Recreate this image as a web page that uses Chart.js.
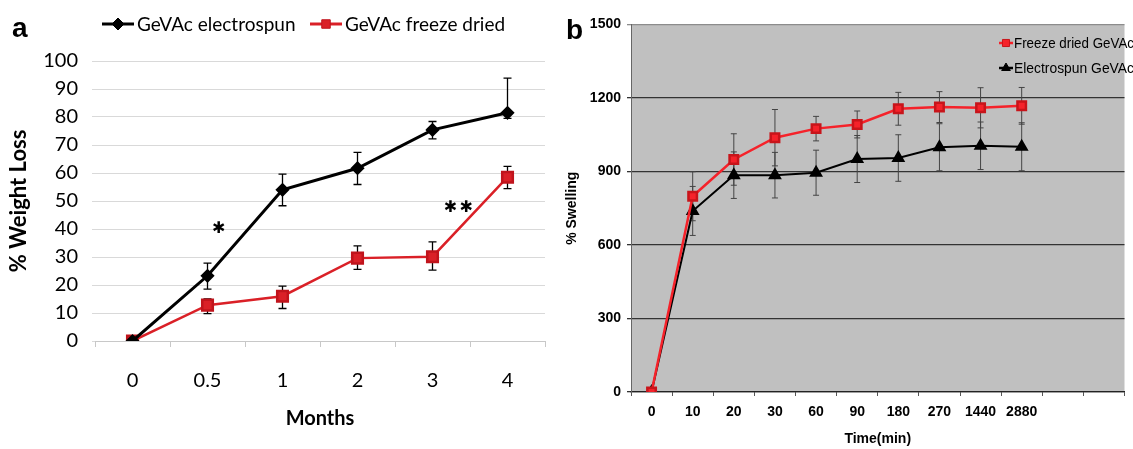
<!DOCTYPE html>
<html>
<head>
<meta charset="utf-8">
<script src="https://cdn.jsdelivr.net/npm/chart.js@4.4.1/dist/chart.umd.min.js"></script>
<style>
  body { margin: 0; background: #fff; width: 1133px; height: 449px; overflow: hidden; position: relative; }
  .panel { position: absolute; top: 0; height: 449px; }
  #pa { left: 0; width: 560px; }
  #pb { left: 560px; width: 573px; }
  .tag { position: absolute; font: bold 28px "Liberation Sans", Arial, sans-serif; color: #000; line-height: 1; }
</style>
</head>
<body>
<div class="panel" id="pa"><canvas id="chartA" width="560" height="449"></canvas></div>
<div class="panel" id="pb"><canvas id="chartB" width="573" height="449"></canvas></div>
<div class="tag" style="left:12px;top:14px">a</div>
<div class="tag" style="left:566px;top:16px">b</div>
<script>
// Panel a: % weight loss over months
const monthLabels = ['0', '0.5', '1', '2', '3', '4'];
const electroLoss = [0, 23.3, 54, 61.7, 75.4, 81.5];
const electroLossUp = [0, 4.5, 5.6, 5.7, 3, 12.4];
const electroLossDown = [0, 4.8, 5.7, 5.8, 3.2, 2];
const freezeLoss = [0, 12.8, 16, 29.6, 30.1, 58.5];
const freezeLossUp = [0, 2.2, 3.6, 4.4, 5.3, 3.9];
const freezeLossDown = [0, 3, 4.4, 4, 4.8, 4.1];
// significance marks (category index, value)
const sigMarks = [
  { x: 1.15, y: 40 },
  { x: 4.24, y: 47.5 },
  { x: 4.45, y: 47.5 }
];

// Panel b: % swelling over time
const timeLabels = ['0', '10', '20', '30', '60', '90', '180', '270', '1440', '2880', '', ''];
const freezeSwell = [0, 799, 949, 1038, 1075, 1092, 1156, 1163, 1160, 1168];
const freezeSwellErr = [0, 100, 105, 115, 50, 55, 67, 63, 82, 75];
const electroSwell = [0, 739, 885, 885, 895, 951, 955, 999, 1005, 1001];
const electroSwellErr = [0, 100, 95, 93, 92, 96, 95, 96, 97, 98];

// error bars, drawn under the markers
const errorBarPlugin = {
  id: 'errorBars',
  beforeDatasetsDraw(chart, args, opts) {
    const ctx = chart.ctx;
    const yScale = chart.scales.y;
    chart.data.datasets.forEach((ds, i) => {
      if (!ds.errUp) return;
      const meta = chart.getDatasetMeta(i);
      ctx.save();
      ctx.strokeStyle = opts.color;
      ctx.lineWidth = opts.width;
      meta.data.forEach((pt, j) => {
        const v = ds.data[j];
        const up = ds.errUp[j], dn = ds.errDown[j];
        if (!up && !dn) return;
        const yTop = yScale.getPixelForValue(v + up);
        const yBot = yScale.getPixelForValue(v - dn);
        ctx.beginPath();
        ctx.moveTo(pt.x, yTop); ctx.lineTo(pt.x, yBot);
        ctx.moveTo(pt.x - opts.cap, yTop); ctx.lineTo(pt.x + opts.cap, yTop);
        ctx.moveTo(pt.x - opts.cap, yBot); ctx.lineTo(pt.x + opts.cap, yBot);
        ctx.stroke();
      });
      ctx.restore();
    });
  }
};

// legend with a line segment and a marker
const lineLegendPlugin = {
  id: 'lineLegend',
  afterDraw(chart, args, opts) {
    const ctx = chart.ctx;
    chart.data.datasets.forEach((ds, i) => {
      const it = opts.items[i];
      ctx.save();
      ctx.strokeStyle = ds.borderColor;
      ctx.lineWidth = opts.lineWidth;
      ctx.beginPath();
      ctx.moveTo(it.x, it.y);
      ctx.lineTo(it.x + opts.lineLen, it.y);
      ctx.stroke();
      ctx.fillStyle = ds.pointBackgroundColor;
      ctx.strokeStyle = ds.pointBorderColor;
      ctx.lineWidth = 1;
      Chart.helpers.drawPoint(ctx, { pointStyle: ds.pointStyle, radius: opts.radius, rotation: 0, borderWidth: 1 },
        it.x + opts.lineLen / 2, it.y);
      ctx.fillStyle = opts.color;
      ctx.font = opts.font;
      ctx.textBaseline = 'middle';
      if (opts.maxWidth) {
        ctx.fillText(ds.label, it.x + opts.lineLen + opts.gap, it.y + 1, opts.maxWidth);
      } else {
        ctx.fillText(ds.label, it.x + opts.lineLen + opts.gap, it.y + 1);
      }
      ctx.restore();
    });
  }
};

const plotBgPlugin = {
  id: 'plotBg',
  beforeDraw(chart, args, opts) {
    const { ctx, chartArea: a } = chart;
    ctx.save();
    ctx.fillStyle = opts.color;
    ctx.fillRect(a.left, a.top, a.right - a.left, a.bottom - a.top);
    ctx.restore();
  }
};

const sigPlugin = {
  id: 'sigMarks',
  afterDatasetsDraw(chart, args, opts) {
    const ctx = chart.ctx;
    ctx.save();
    ctx.fillStyle = '#000';
    ctx.font = opts.font;
    ctx.textAlign = 'center';
    ctx.textBaseline = 'middle';
    sigMarks.forEach(m => {
      ctx.fillText('\u2731', chart.scales.x.getPixelForValue(m.x), chart.scales.y.getPixelForValue(m.y));
    });
    ctx.restore();
  }
};

const fontA = { family: 'Lato', size: 20 };
const fontABold = { family: 'Lato', size: 20, weight: 'bold' };

new Chart(document.getElementById('chartA'), {
  type: 'line',
  data: {
    labels: monthLabels,
    datasets: [{
      label: 'GeVAc electrospun',
      data: electroLoss,
      errUp: electroLossUp,
      errDown: electroLossDown,
      borderColor: '#000',
      borderWidth: 3,
      pointStyle: 'rectRot',
      pointRadius: 5,
      pointBackgroundColor: '#000',
      pointBorderColor: '#000',
      tension: 0
    }, {
      label: 'GeVAc freeze dried',
      data: freezeLoss,
      errUp: freezeLossUp,
      errDown: freezeLossDown,
      borderColor: '#da2027',
      borderWidth: 2.5,
      pointStyle: 'rect',
      pointRadius: 7.5,
      pointBackgroundColor: '#da2027',
      pointBorderColor: '#c0141c',
      tension: 0
    }]
  },
  options: {
    responsive: false,
    animation: false,
    layout: { padding: { left: 0, right: 15, top: 61, bottom: 0 } },
    plugins: {
      legend: { display: false },
      tooltip: { enabled: false },
      errorBars: { color: '#000', width: 1.3, cap: 4 },
      lineLegend: {
        items: [{ x: 102, y: 24 }, { x: 310, y: 24 }],
        lineLen: 32, lineWidth: 3, radius: 6, gap: 3,
        font: '19px Lato', color: '#000'
      },
      sigMarks: { font: 'bold 16px "DejaVu Sans"' }
    },
    scales: {
      x: {
        offset: true,
        grid: { offset: true, drawOnChartArea: false, tickLength: 6, color: '#c8c8c8' },
        border: { color: '#c8c8c8' },
        ticks: { font: fontA, color: '#000', padding: 22 },
        title: { display: true, text: 'Months', font: fontABold, color: '#000', padding: { top: 0, bottom: 18 } },
        afterFit(s) { s.height = 108; }
      },
      y: {
        min: 0,
        max: 100,
        ticks: { stepSize: 10, font: fontA, color: '#000', padding: 14 },
        grid: { color: '#d9d9d9', tickLength: 3 },
        border: { display: false },
        title: { display: true, text: '% Weight Loss', font: { family: 'Lato', size: 22, weight: 'bold' }, color: '#000', padding: { top: 6, bottom: 0 } },
        afterFit(s) { s.width = 95; }
      }
    }
  },
  plugins: [errorBarPlugin, lineLegendPlugin, sigPlugin]
});

const fontB = { family: 'Liberation Sans', size: 14, weight: 'bold' };

new Chart(document.getElementById('chartB'), {
  type: 'line',
  data: {
    labels: timeLabels,
    datasets: [{
      label: 'Freeze dried GeVAc',
      data: freezeSwell,
      errUp: freezeSwellErr,
      errDown: freezeSwellErr,
      borderColor: '#f5222a',
      borderWidth: 2.5,
      pointStyle: 'rect',
      pointRadius: 6,
      pointBackgroundColor: '#f5222a',
      pointBorderColor: '#c8141a',
      tension: 0
    }, {
      label: 'Electrospun GeVAc',
      data: electroSwell,
      errUp: electroSwellErr,
      errDown: electroSwellErr,
      borderColor: '#000',
      borderWidth: 2,
      pointStyle: 'triangle',
      pointRadius: 6,
      pointBackgroundColor: '#000',
      pointBorderColor: '#000',
      tension: 0
    }]
  },
  options: {
    responsive: false,
    animation: false,
    layout: { padding: { left: 0, right: 1.5, top: 24.5, bottom: 0 } },
    plugins: {
      legend: { display: false },
      tooltip: { enabled: false },
      plotBg: { color: '#c0c0c0' },
      errorBars: { color: '#444', width: 1, cap: 3 },
      lineLegend: {
        items: [{ x: 439, y: 43 }, { x: 439, y: 68 }],
        lineLen: 14, lineWidth: 2.5, radius: 5, gap: 1,
        font: '14.5px "Liberation Sans"', maxWidth: 120, color: '#000'
      }
    },
    scales: {
      x: {
        offset: true,
        grid: { offset: true, drawOnChartArea: false, tickLength: 4, color: '#555' },
        border: { color: '#222', width: 1.2 },
        ticks: { font: fontB, color: '#000', padding: 8, autoSkip: false, maxRotation: 0 },
        title: { display: true, text: 'Time(min)', font: fontB, color: '#000', padding: { top: 0, bottom: 1 } },
        afterFit(s) { s.height = 57; }
      },
      y: {
        min: 0,
        max: 1500,
        ticks: { stepSize: 300, font: fontB, color: '#000', padding: 6, callback: v => String(v) },
        grid: {
          color: ctx => (ctx.tick && ctx.tick.value === 1500 ? '#8c8c8c' : '#333'),
          lineWidth: 1.3,
          tickLength: 4
        },
        border: { color: '#666' },
        title: { display: true, text: '% Swelling', font: fontB, color: '#000', padding: { top: 4, bottom: 0 } },
        afterFit(s) { s.width = 71; }
      }
    }
  },
  plugins: [plotBgPlugin, errorBarPlugin, lineLegendPlugin]
});
</script>
</body>
</html>
